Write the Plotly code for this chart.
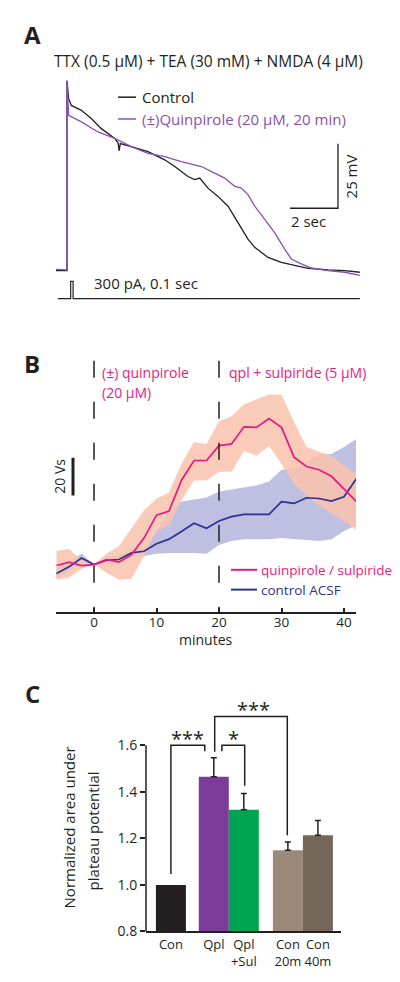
import plotly.graph_objects as go

W, H = 400, 982
def px(x): return x / W
def py(y): return 1 - y / H

FONT = "Open Sans"
INK = "#231f20"
PURPLE = "#8c4fb0"
PINK = "#e8197f"
BLUE = "#2e3192"
SALMON = "rgba(249,196,174,0.88)"
LAVENDER = "rgb(191,191,226)"

# ---------------- Panel A data (time s, membrane potential mV rel. baseline) -------------
ctrl_t = [-0.458, -0.02, 0.0, 0.0, 0.07, 0.18, 0.60, 1.01, 1.43, 1.99, 2.13, 2.17, 2.22, 2.68,
          3.375, 4.07, 4.49, 5.04, 5.32, 5.53, 5.875, 6.29, 6.71, 7.125, 7.54, 7.82,
          8.375, 8.93, 9.49, 10.04, 10.875, 11.57, 12.2]
ctrl_mv = [0.0, 0.0, 0.0, 73.7, 66.7, 64.1, 62.2, 59.0, 55.1, 51.3, 49.5, 46.5, 49.3, 48.1,
           46.2, 43.0, 40.4, 36.5, 35.3, 35.9, 32.0, 28.8, 25.0, 18.6, 12.2, 9.0,
           5.1, 3.2, 1.9, 0.9, 0.3, 0.0, -0.65]
qpl_t = [-0.458, -0.02, 0.0, 0.0, 0.07, 0.60, 1.29, 1.99, 2.68, 3.375, 4.07, 4.76, 5.04,
         5.6, 6.15, 6.57, 6.99, 7.26, 7.54, 7.82, 8.24, 8.65, 9.07, 9.35, 9.76, 10.18,
         10.875, 11.57, 12.2]
qpl_mv = [0.5, 0.3, 0.3, 73.7, 60.3, 57.7, 53.8, 51.3, 48.1, 45.5, 44.2, 42.3, 41.7,
          40.4, 37.8, 35.9, 32.7, 32.0, 29.5, 25.0, 19.9, 14.7, 8.3, 4.5, 2.6, 1.0,
          0.0, -0.65, -1.9]
stim_t = [-0.375, 0.154, 0.154, 0.254, 0.254, 12.2]
stim_pa = [0, 0, 300, 300, 0, 0]
SCALE_SEC, SCALE_MV = 2, 25

# ---------------- Panel B data (minutes, area Vs) -------------
minutes = [-6, -4, -2, 0, 2, 4, 6, 8, 10, 12, 14, 16, 18, 20, 22, 24, 26, 28, 30, 32, 34, 36, 38, 40, 42]
qpl_mean = [44.9, 46.7, 44.9, 45.4, 48.1, 46.7, 50.7, 59.5, 71.7, 73.8, 90.2, 100.7, 100.7,
            108.6, 109.5, 118.6, 118.3, 123.0, 118.3, 102.5, 97.5, 95.8, 92.3, 85.8, 78.8]
qpl_upper = [52.6, 53.7, 47.9, 45.4, 51.1, 55.3, 64.7, 74.2, 80.5, 83.7, 98.9, 110.5, 109.5,
             121.6, 124.2, 130.5, 133.2, 135.8, 135.8, 121.1, 107.9, 105.3, 103.2, 97.9, 93.7]
qpl_lower = [37.4, 38.4, 43.2, 45.4, 41.1, 37.4, 37.9, 50.0, 63.2, 66.3, 79.5, 90.0, 90.0,
             94.7, 94.7, 105.8, 103.2, 108.4, 98.9, 88.4, 82.1, 76.8, 72.6, 68.4, 63.7]
acsf_mean = [40.7, 44.2, 48.9, 45.4, 47.7, 48.1, 51.6, 52.5, 56.5, 58.9, 63.0, 67.4, 64.7,
             68.6, 70.9, 72.1, 72.1, 72.1, 78.8, 77.9, 80.9, 80.5, 79.1, 81.4, 91.1]
acsf_upper = [43.7, 46.8, 51.1, 45.4, 49.5, 50.0, 53.7, 54.2, 63.2, 73.7, 78.9, 80.0, 81.1,
              84.2, 85.3, 86.3, 87.4, 89.5, 95.8, 96.3, 100.0, 104.2, 104.2, 107.9, 112.1]
acsf_lower = [37.9, 41.6, 46.8, 45.4, 45.8, 46.3, 49.5, 50.0, 51.1, 51.6, 51.6, 51.6, 51.1,
              55.8, 57.9, 58.9, 58.9, 58.9, 59.5, 58.9, 58.4, 57.9, 58.9, 63.2, 66.3]
drug_times = [0, 20]
SCALE_VS = 20

# ---------------- Panel C data -------------
groups = ["Con", "Qpl", "Qpl<br>+Sul", "Con<br>20m", "Con<br>40m"]
norm_area = [1.0, 1.464, 1.323, 1.149, 1.213]
norm_sem = [None, 0.082, 0.07, 0.035, 0.064]
bar_colors = [INK, "#7b3c99", "#00a551", "#9b8879", "#75665a"]
bar_pos = [0.0, 1.43, 2.43, 3.9, 4.9]

fig = go.Figure()

# Panel A traces
fig.add_trace(go.Scatter(x=ctrl_t, y=ctrl_mv, mode="lines", line=dict(color=INK, width=1.3),
                         xaxis="x", yaxis="y", showlegend=False))
fig.add_trace(go.Scatter(x=qpl_t, y=qpl_mv, mode="lines", line=dict(color=PURPLE, width=1.3),
                         xaxis="x", yaxis="y", showlegend=False))
sb_t0, sb_v0 = 9.29, 24.2
fig.add_trace(go.Scatter(x=[sb_t0, sb_t0 + SCALE_SEC, sb_t0 + SCALE_SEC],
                         y=[sb_v0, sb_v0, sb_v0 + SCALE_MV], mode="lines",
                         line=dict(color=INK, width=1.3), xaxis="x", yaxis="y", showlegend=False))
fig.add_trace(go.Scatter(x=stim_t, y=stim_pa, mode="lines", line=dict(color=INK, width=1.2),
                         xaxis="x", yaxis="y2", showlegend=False))

# Panel B traces
fig.add_trace(go.Scatter(x=minutes + minutes[::-1], y=acsf_upper + acsf_lower[::-1],
                         fill="toself", fillcolor=LAVENDER, line=dict(width=0), mode="lines",
                         xaxis="x3", yaxis="y3", showlegend=False))
fig.add_trace(go.Scatter(x=minutes + minutes[::-1], y=qpl_upper + qpl_lower[::-1],
                         fill="toself", fillcolor=SALMON, line=dict(width=0), mode="lines",
                         xaxis="x3", yaxis="y3", showlegend=False))
fig.add_trace(go.Scatter(x=minutes, y=acsf_mean, mode="lines", line=dict(color=BLUE, width=1.7),
                         xaxis="x3", yaxis="y3", showlegend=False))
fig.add_trace(go.Scatter(x=minutes, y=qpl_mean, mode="lines", line=dict(color=PINK, width=1.7),
                         xaxis="x3", yaxis="y3", showlegend=False))
sbB_t, sbB_v = -3.36, 82.1
fig.add_trace(go.Scatter(x=[sbB_t, sbB_t], y=[sbB_v, sbB_v + SCALE_VS], mode="lines",
                         line=dict(color=INK, width=3), xaxis="x3", yaxis="y3", showlegend=False))

# Panel C bars: control bar (no error), then the others with SEM
fig.add_trace(go.Bar(x=bar_pos[:1], y=norm_area[:1], width=1.0,
                     marker=dict(color=bar_colors[:1], line=dict(width=0)),
                     xaxis="x4", yaxis="y4", showlegend=False))
fig.add_trace(go.Bar(x=bar_pos[1:], y=norm_area[1:], width=1.0,
                     marker=dict(color=bar_colors[1:], line=dict(width=0)),
                     error_y=dict(type="data", symmetric=False, array=norm_sem[1:],
                                  arrayminus=[0] * 4, thickness=1.5, width=3, color=INK),
                     xaxis="x4", yaxis="y4", showlegend=False))

shapes = []
# A legend samples
shapes.append(dict(type="line", xref="paper", yref="paper", x0=px(110), x1=px(128), y0=py(90), y1=py(90),
                   line=dict(color=INK, width=1.5)))
shapes.append(dict(type="line", xref="paper", yref="paper", x0=px(110), x1=px(128), y0=py(112), y1=py(112),
                   line=dict(color=PURPLE, width=1.5)))
# B dashed drug lines
for t in drug_times:
    shapes.append(dict(type="line", xref="x3", yref="y3 domain", x0=t, x1=t, y0=0.977, y1=0,
                       line=dict(color=INK, width=1.5, dash="17px,24px")))
# B legend samples
shapes.append(dict(type="line", xref="paper", yref="paper", x0=px(223), x1=px(249), y0=py(567), y1=py(567),
                   line=dict(color=PINK, width=2)))
shapes.append(dict(type="line", xref="paper", yref="paper", x0=px(223), x1=px(249), y0=py(587), y1=py(587),
                   line=dict(color=BLUE, width=2)))
# C y axis line (0.8 to 1.6)
shapes.append(dict(type="line", xref="paper", yref="y4", x0=px(138), x1=px(138), y0=0.8, y1=1.6,
                   line=dict(color=INK, width=1.5)))
# C significance brackets
brackets = [
    (0.0, 1.047, 1.13, 1.574, 1.6),
    (1.70, 1.574, 2.46, 1.426, 1.6),
    (1.46, 1.572, 3.88, 1.213, 1.723),
]
for xl, yl, xr, yr, yt in brackets:
    shapes.append(dict(type="path", xref="x4", yref="y4",
                       path=f"M {xl},{yl} L {xl},{yt} L {xr},{yt} L {xr},{yr}",
                       line=dict(color=INK, width=1.5)))

ann = []
def txt(text, x, y, size=14, color=INK, xanchor="center", angle=0, bold=False):
    ann.append(dict(text=f"<b>{text}</b>" if bold else text, x=px(x), y=py(y), xref="paper", yref="paper",
                    showarrow=False, xanchor=xanchor, yanchor="middle", textangle=angle,
                    font=dict(family=FONT, size=size, color=color)))

txt("A", 24, 27, size=24, bold=True)
txt("TTX (0.5 μM) + TEA (30 mM) + NMDA (4 μM)", 201, 53, size=15.5)
txt("Control", 132, 90, size=15, xanchor="left")
txt("(±)Quinpirole (20 μM, 20 min)", 132, 112, size=15, color=PURPLE, xanchor="left")
txt("25 mV", 343, 170, size=15, angle=-90)
txt("2 sec", 300, 215, size=15)
txt("300 pA, 0.1 sec", 84, 278, size=15, xanchor="left")

txt("B", 24, 359, size=24, bold=True)
txt("(±) quinpirole", 92, 368, size=14, color=PINK, xanchor="left")
txt("(20 μM)", 92, 388, size=14, color=PINK, xanchor="left")
txt("qpl + sulpiride (5 μM)", 219, 368, size=14, color=PINK, xanchor="left")
txt("20 Vs", 52, 473, size=14, angle=-90)
txt("quinpirole / sulpiride", 251, 567, size=13.5, color=PINK, xanchor="left")
txt("control ACSF", 251, 587, size=13.5, color=BLUE, xanchor="left")
txt("minutes", 198, 637, size=14)

txt("C", 24, 692, size=24, bold=True)
txt("Normalized area under", 61, 827, size=15, angle=-90)
txt("plateau potential", 85, 831, size=15, angle=-90)

stars = [("***", 0.54, 1.63), ("*", 2.07, 1.63), ("***", 2.74, 1.752)]
for s, sx, sy in stars:
    ann.append(dict(text=s, x=sx, y=sy, xref="x4", yref="y4", showarrow=False,
                    xanchor="center", yanchor="middle", font=dict(family=FONT, size=20, color=INK)))

hidden = dict(visible=False, showgrid=False, zeroline=False, fixedrange=True)

fig.update_layout(
    width=W, height=H, margin=dict(l=0, r=0, t=0, b=0),
    paper_bgcolor="white", plot_bgcolor="rgba(0,0,0,0)",
    font=dict(family=FONT, size=14, color=INK),
    showlegend=False,
    xaxis=dict(hidden, domain=[px(48), px(352)], range=[-0.458, 12.208], anchor="y"),
    yaxis=dict(hidden, domain=[py(300), py(60)], range=[-13.46, 78.85], anchor="x"),
    yaxis2=dict(hidden, overlaying="y", range=[-116.2, 4045.6], anchor="x"),
    xaxis3=dict(domain=[px(48), px(348)], range=[-6.08, 41.92], anchor="y3",
                showline=True, linecolor=INK, linewidth=1.5, showgrid=False, zeroline=False,
                ticks="inside", ticklen=5, tickwidth=1.5, tickcolor=INK,
                tickvals=[0, 10, 20, 30, 40], tickfont=dict(size=13.5), ticklabelstandoff=-3),
    yaxis3=dict(hidden, domain=[py(610), py(350)], range=[20, 156.84], anchor="x3"),
    xaxis4=dict(domain=[px(138), px(333)], range=[-0.83, 5.67], anchor="y4",
                showline=True, linecolor=INK, linewidth=1.5, showgrid=False, zeroline=False,
                ticks="", tickvals=bar_pos, ticktext=groups, tickangle=0, tickfont=dict(size=13)),
    yaxis4=dict(domain=[py(932), py(697)], range=[0.8, 1.8], anchor="x4",
                showline=False, showgrid=False, zeroline=False,
                ticks="outside", ticklen=5, tickwidth=1.5, tickcolor=INK,
                tickvals=[0.8, 1.0, 1.2, 1.4, 1.6], ticktext=["0.8", "1.0", "1.2", "1.4", "1.6"],
                tickfont=dict(size=14)),
    shapes=shapes,
    annotations=ann,
)

fig.write_html("out.html")
